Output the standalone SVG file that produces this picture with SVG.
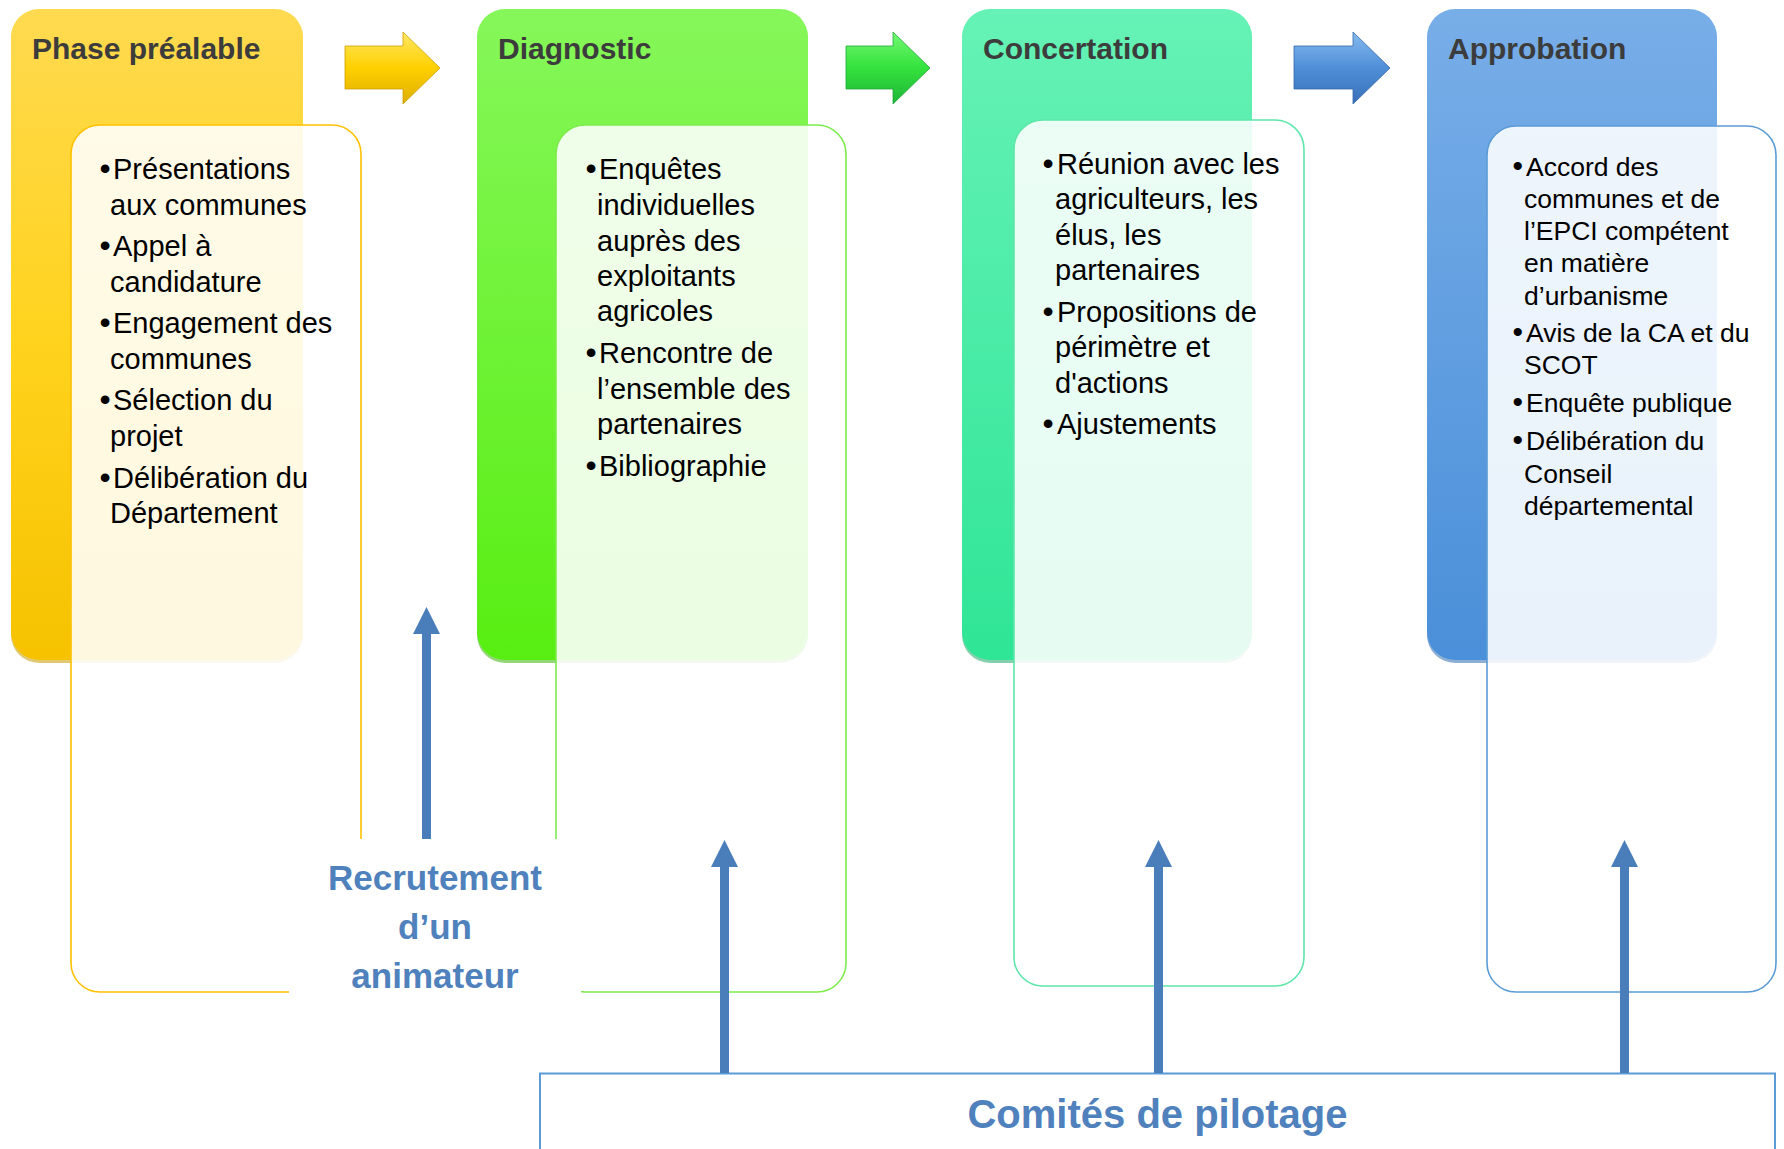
<svg xmlns="http://www.w3.org/2000/svg" width="1784" height="1149" viewBox="0 0 1784 1149">
<defs>
<linearGradient id="gY" x1="0" y1="0" x2="0" y2="1"><stop offset="0" stop-color="#FFDA50"/><stop offset="0.5" stop-color="#FFD31E"/><stop offset="1" stop-color="#F6C200"/></linearGradient>
<linearGradient id="gG" x1="0" y1="0" x2="0" y2="1"><stop offset="0" stop-color="#86F75A"/><stop offset="1" stop-color="#58EE12"/></linearGradient>
<linearGradient id="gT" x1="0" y1="0" x2="0" y2="1"><stop offset="0" stop-color="#66F2B6"/><stop offset="1" stop-color="#2FE596"/></linearGradient>
<linearGradient id="gB" x1="0" y1="0" x2="0" y2="1"><stop offset="0" stop-color="#78AEE8"/><stop offset="1" stop-color="#4A8FD9"/></linearGradient>
<linearGradient id="aY" x1="0" y1="0" x2="0" y2="1"><stop offset="0" stop-color="#FFE866"/><stop offset="0.5" stop-color="#FFD000"/><stop offset="1" stop-color="#DDAE00"/></linearGradient>
<linearGradient id="aG" x1="0" y1="0" x2="0" y2="1"><stop offset="0" stop-color="#74F874"/><stop offset="0.5" stop-color="#34E23C"/><stop offset="1" stop-color="#1EB43A"/></linearGradient>
<linearGradient id="aB" x1="0" y1="0" x2="0" y2="1"><stop offset="0" stop-color="#86BAEE"/><stop offset="0.5" stop-color="#4F8FD8"/><stop offset="1" stop-color="#386FB6"/></linearGradient>
<marker id="head" markerUnits="userSpaceOnUse" markerWidth="28" markerHeight="27" refX="0" refY="13.5" orient="auto"><path d="M0,0 L27,13.5 L0,27 Z" fill="#4A7EBB"/></marker>
</defs>
<style>
.title{font-family:"Liberation Sans",Arial,sans-serif;font-weight:bold;font-size:30px;fill:#3C3C3C}
.t{font-family:"Liberation Sans",Arial,sans-serif;font-size:29px;fill:#000}
.ts{font-family:"Liberation Sans",Arial,sans-serif;font-size:26.5px;fill:#000}
.b{font-family:"Liberation Sans",Arial,sans-serif;font-size:32px;fill:#000}
.bs{font-family:"Liberation Sans",Arial,sans-serif;font-size:30px;fill:#000}
.lbl{font-family:"Liberation Sans",Arial,sans-serif;font-weight:bold;fill:#4F81BD;text-anchor:middle}
.panel{fill:#FFFFFF;fill-opacity:0.88;stroke-width:1.6}
.conn{stroke:#4A7EBB;stroke-width:9;fill:none;marker-end:url(#head)}
.arrow{stroke-width:0.8}
</style>
<rect width="1784" height="1149" fill="#FFFFFF"/>

<g id="phase-prealable">
<rect x="11" y="12" width="292" height="651" rx="28" fill="#C99C00" opacity="0.55"/>
<rect x="11" y="9" width="292" height="651" rx="28" fill="url(#gY)"/>
<text class="title" x="32" y="59">Phase préalable</text>
<rect class="panel" x="71" y="125" width="290" height="867" rx="29" stroke="#FFC000"/>
<text class="b" x="99.5" y="179">•</text><text class="t" x="113" y="179">Présentations</text>
<text class="t" x="110" y="215">aux communes</text>
<text class="b" x="99.5" y="256">•</text><text class="t" x="113" y="256">Appel à</text>
<text class="t" x="110" y="292">candidature</text>
<text class="b" x="99.5" y="333">•</text><text class="t" x="113" y="333">Engagement des</text>
<text class="t" x="110" y="369">communes</text>
<text class="b" x="99.5" y="410">•</text><text class="t" x="113" y="410">Sélection du</text>
<text class="t" x="110" y="446">projet</text>
<text class="b" x="99.5" y="488">•</text><text class="t" x="113" y="488">Délibération du</text>
<text class="t" x="110" y="523">Département</text>
</g>

<g id="diagnostic">
<rect x="477" y="12" width="331" height="651" rx="28" fill="#3CB40A" opacity="0.55"/>
<rect x="477" y="9" width="331" height="651" rx="28" fill="url(#gG)"/>
<text class="title" x="498" y="59">Diagnostic</text>
<rect class="panel" x="556" y="125" width="290" height="867" rx="29" stroke="#7DEB4C"/>
<text class="b" x="585.5" y="179">•</text><text class="t" x="599" y="179">Enquêtes</text>
<text class="t" x="597" y="215">individuelles</text>
<text class="t" x="597" y="250.5">auprès des</text>
<text class="t" x="597" y="286">exploitants</text>
<text class="t" x="597" y="321">agricoles</text>
<text class="b" x="585.5" y="363">•</text><text class="t" x="599" y="363">Rencontre de</text>
<text class="t" x="597" y="398.5">l’ensemble des</text>
<text class="t" x="597" y="434">partenaires</text>
<text class="b" x="585.5" y="476">•</text><text class="t" x="599" y="476">Bibliographie</text>
</g>

<g id="concertation">
<rect x="962" y="12" width="290" height="651" rx="28" fill="#1FA86C" opacity="0.55"/>
<rect x="962" y="9" width="290" height="651" rx="28" fill="url(#gT)"/>
<text class="title" x="983" y="59">Concertation</text>
<rect class="panel" x="1014" y="120" width="290" height="866" rx="29" stroke="#5DE6A8"/>
<text class="b" x="1042.5" y="173.5">•</text><text class="t" x="1057" y="173.5">Réunion avec les</text>
<text class="t" x="1055" y="209">agriculteurs, les</text>
<text class="t" x="1055" y="244.5">élus, les</text>
<text class="t" x="1055" y="280">partenaires</text>
<text class="b" x="1042.5" y="321.5">•</text><text class="t" x="1057" y="321.5">Propositions de</text>
<text class="t" x="1055" y="357">périmètre et</text>
<text class="t" x="1055" y="392.5">d'actions</text>
<text class="b" x="1042.5" y="434">•</text><text class="t" x="1057" y="434">Ajustements</text>
</g>

<g id="approbation">
<rect x="1427" y="12" width="290" height="651" rx="28" fill="#2F6DB0" opacity="0.55"/>
<rect x="1427" y="9" width="290" height="651" rx="28" fill="url(#gB)"/>
<text class="title" x="1448" y="59">Approbation</text>
<rect class="panel" x="1487" y="126" width="289" height="866" rx="29" stroke="#5B9BD5"/>
<text class="bs" x="1512.5" y="175.6">•</text><text class="ts" x="1526" y="175.6">Accord des</text>
<text class="ts" x="1524" y="208">communes et de</text>
<text class="ts" x="1524" y="240">l’EPCI compétent</text>
<text class="ts" x="1524" y="272">en matière</text>
<text class="ts" x="1524" y="305">d’urbanisme</text>
<text class="bs" x="1512.5" y="341.7">•</text><text class="ts" x="1526" y="341.7">Avis de la CA et du</text>
<text class="ts" x="1524" y="374">SCOT</text>
<text class="bs" x="1512.5" y="412">•</text><text class="ts" x="1526" y="412">Enquête publique</text>
<text class="bs" x="1512.5" y="449.7">•</text><text class="ts" x="1526" y="449.7">Délibération du</text>
<text class="ts" x="1524" y="482.6">Conseil</text>
<text class="ts" x="1524" y="514.7">départemental</text>
</g>

<g id="recrutement">
<rect x="289" y="839" width="292" height="165" fill="#FFFFFF"/>
<text class="lbl" font-size="35" x="435" y="890">Recrutement</text>
<text class="lbl" font-size="35" x="435" y="938.5">d’un</text>
<text class="lbl" font-size="35" x="435" y="988">animateur</text>
</g>

<g id="comites">
<rect x="540" y="1073.5" width="1235" height="100" fill="#FFFFFF" stroke="#5B9BD5" stroke-width="2"/>
<text class="lbl" font-size="40" x="1157.5" y="1128">Comités de pilotage</text>
</g>

<g id="connectors">
<polygon class="arrow" points="345,46 403,46 403,32 440,68 403,104 403,89 345,89" fill="url(#aY)" stroke="#CFA000"/>
<polygon class="arrow" points="846,46 893,46 893,32 930,68 893,104 893,89 846,89" fill="url(#aG)" stroke="#1FA838"/>
<polygon class="arrow" points="1294,46 1353,46 1353,32 1390,68 1353,104 1353,89 1294,89" fill="url(#aB)" stroke="#3468AA"/>
<line class="conn" x1="426.5" y1="839" x2="426.5" y2="634"/>
<line class="conn" x1="724.5" y1="1073" x2="724.5" y2="867"/>
<line class="conn" x1="1158.5" y1="1073" x2="1158.5" y2="867"/>
<line class="conn" x1="1624.5" y1="1073" x2="1624.5" y2="867"/>
</g>
</svg>
